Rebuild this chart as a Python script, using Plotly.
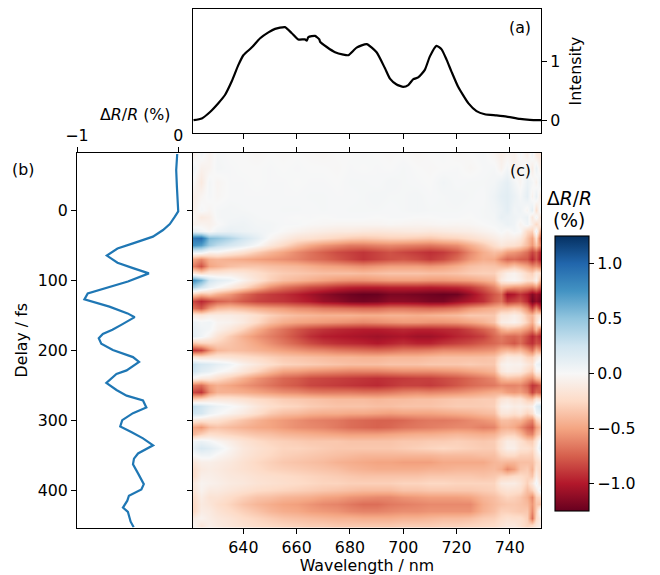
import numpy as np
import plotly.graph_objects as go

W, H = 660, 575

spec_nm = [621.3,624.4,627.5,630.6,633.1,635.6,638.1,640,643.1,646.3,649.4,651.9,655.6,658.1,660.6,663.1,663.8,664.4,666.9,668.5,668.8,671.3,674.4,677.5,679.4,682.5,686.3,690,693.1,695,697.5,700,701.9,703.8,705.6,708.1,710,712.5,714.4,716.3,718.1,720.6,724.4,727.5,730.6,735,738.8,743.8,747.5,751.8]
spec_int = [0,.03,.14,.29,.43,.66,.94,1.11,1.24,1.40,1.50,1.56,1.59,1.49,1.38,1.38,1.36,1.42,1.44,1.38,1.34,1.25,1.16,1.12,1.11,1.24,1.30,1.16,.89,.71,.61,.57,.60,.70,.73,.86,1.09,1.27,1.21,1.03,.83,.57,.29,.155,.10,.08,.06,.02,.005,0]

trace_delay = [-80,-57,-33,-14,2,9.5,20,28.6,38,47.6,55,65,75.2,83,90.5,102,112,119,127.6,138,147.6,153,164,171,177,183,191,200,210,217,229,234,246.7,257,265,272,282,290,300,309,317,326,336,347.6,355,363,376,391.4,399,408,415,424.8,431,438,445,453]
trace_val = [-.01,-.02,-.013,-.007,0,-.033,-.083,-.15,-.25,-.447,-.6,-.705,-.6,-.447,-.29,-.497,-.73,-.894,-.927,-.68,-.5,-.43,-.563,-.65,-.745,-.785,-.76,-.646,-.447,-.387,-.51,-.61,-.71,-.61,-.51,-.348,-.315,-.447,-.553,-.573,-.464,-.348,-.248,-.397,-.437,-.447,-.397,-.34,-.364,-.487,-.503,-.546,-.497,-.487,-.47,-.44]

map_nm = [621.5,624,627,630,635,640,645,650,655,660,665,670,675,680,685,690,695,700,705,710,715,720,725,730,734,736.5,739,741.5,744,746.5,748.5,750,751.3]
map_delay = [-80,-60,-40,-20,0,10,20,30,40,50,60,70,80,90,100,110,120,130,140,150,160,170,180,190,200,210,220,230,240,250,260,270,280,290,300,310,320,330,340,350,360,370,380,390,400,410,420,430,440,450]
# delta R / R in hundredths of a percent, one row per delay
map_centi = [
[-5,3,-4,2,0,0,-2,0,-1,0,-1,-2,0,0,1,0,-1,0,-2,0,1,-2,0,2,-3,-8,-4,-6,2,-8,6,-12,-15],
[4,-6,-4,3,1,0,0,1,0,1,0,0,-1,1,0,1,0,2,0,-1,0,1,-2,1,2,-5,3,-7,-3,5,-10,8,-8],
[-2,-12,3,-3,1,1,0,1,1,0,1,1,0,2,2,1,3,2,1,0,4,1,2,2,3,8,12,3,-3,8,3,-6,10],
[-8,-3,2,-2,1,1,1,1,1,1,2,2,1,1,2,3,2,2,3,1,2,3,2,1,6,12,14,8,2,12,-5,10,-12],
[-6,2,-3,2,3,2,1,1,2,2,1,2,1,2,2,2,1,2,3,2,2,2,1,2,4,8,13,4,6,-3,12,-20,6],
[-3,-12,-8,2,3,4,2,1,1,0,1,0,1,1,1,0,1,1,0,0,1,1,0,2,3,10,8,6,3,8,-14,5,-18],
[-6,-4,-6,-1,5,6,3,3,1,1,-1,-2,-3,-3,-3,-3,-2,-3,-4,-3,-2,-3,-2,0,2,4,8,5,-4,5,-8,-25,-10],
[10,4,-2,6,10,7,5,3,-1,-5,-8,-10,-12,-12,-14,-15,-14,-13,-12,-14,-12,-10,-9,-5,-2,2,-2,3,0,-25,-30,8,-45],
[90,95,55,50,38,25,12,-2,-10,-18,-20,-24,-28,-32,-34,-32,-30,-30,-32,-34,-30,-28,-22,-16,-10,-6,-8,-8,-14,-35,-50,-20,-70],
[75,70,45,32,22,12,0,-14,-25,-38,-48,-55,-60,-65,-65,-62,-60,-62,-64,-66,-62,-58,-46,-34,-22,-14,-18,-20,-26,-40,-55,-35,-60],
[10,8,-5,-3,-12,-20,-32,-42,-50,-60,-68,-75,-82,-86,-90,-85,-80,-84,-88,-92,-88,-78,-60,-46,-38,-42,-52,-55,-60,-70,-85,-75,-95],
[-50,-60,-45,-42,-45,-48,-52,-55,-58,-62,-68,-72,-78,-84,-90,-85,-80,-78,-82,-88,-82,-70,-55,-46,-48,-62,-72,-70,-75,-78,-95,-80,-100],
[-65,-80,-50,-45,-38,-35,-35,-38,-40,-42,-46,-50,-52,-55,-58,-55,-52,-52,-52,-55,-52,-46,-38,-35,-36,-40,-42,-35,-42,-50,-60,-55,-65],
[-15,-25,-15,-15,-12,-15,-22,-28,-32,-34,-36,-38,-38,-38,-40,-38,-36,-36,-36,-38,-38,-36,-32,-30,-30,-18,-8,-5,-12,-25,-30,-15,-20],
[75,60,25,15,8,-5,-18,-30,-38,-42,-46,-50,-54,-56,-56,-54,-52,-52,-52,-54,-54,-52,-50,-45,-40,-12,-5,-3,-8,-20,-20,-5,-40],
[40,25,8,0,-12,-25,-42,-58,-68,-75,-82,-86,-92,-96,-98,-98,-96,-96,-96,-98,-96,-94,-88,-76,-62,-45,-50,-55,-55,-60,-65,-55,-75],
[-30,-40,-35,-45,-55,-70,-82,-88,-92,-98,-105,-112,-118,-122,-125,-124,-118,-118,-120,-122,-124,-122,-108,-92,-78,-70,-105,-100,-90,-100,-115,-105,-115],
[-85,-95,-85,-75,-70,-78,-85,-88,-90,-95,-100,-108,-112,-118,-120,-118,-112,-112,-114,-118,-118,-108,-100,-92,-75,-68,-90,-85,-80,-95,-120,-110,-120],
[-70,-78,-55,-42,-38,-42,-48,-52,-55,-60,-62,-66,-68,-70,-72,-72,-68,-68,-70,-72,-70,-66,-56,-50,-46,-42,-42,-38,-42,-60,-85,-60,-85],
[-12,-15,-10,-10,-10,-14,-22,-30,-36,-40,-42,-44,-44,-44,-46,-46,-44,-44,-46,-44,-42,-40,-34,-34,-34,-15,-14,-8,-15,-35,-42,-25,-20],
[8,3,5,-3,-5,-12,-25,-38,-46,-50,-52,-54,-56,-58,-60,-58,-56,-54,-54,-56,-56,-54,-50,-44,-36,-10,-8,-5,-12,-30,-45,-20,5],
[10,6,3,-6,-15,-28,-45,-58,-68,-78,-85,-90,-94,-96,-98,-98,-96,-94,-96,-96,-94,-92,-84,-74,-64,-45,-38,-42,-45,-55,-65,-40,-65],
[12,5,-5,-18,-32,-45,-56,-64,-72,-82,-92,-98,-100,-102,-104,-106,-104,-102,-106,-106,-102,-96,-92,-86,-72,-65,-70,-72,-68,-82,-95,-85,-95],
[-35,-30,-28,-30,-36,-42,-50,-58,-66,-74,-82,-88,-92,-94,-96,-100,-96,-92,-96,-96,-90,-86,-82,-76,-72,-68,-72,-78,-70,-85,-92,-80,-85],
[-90,-85,-60,-42,-38,-40,-44,-48,-52,-56,-60,-62,-66,-68,-70,-72,-70,-66,-66,-64,-60,-60,-60,-58,-56,-46,-42,-46,-42,-55,-68,-45,-55],
[-15,-20,-18,-16,-18,-22,-26,-30,-34,-36,-38,-40,-42,-42,-44,-44,-42,-42,-42,-40,-38,-38,-38,-38,-36,-22,-12,-14,-14,-28,-30,-15,-5],
[28,22,18,12,5,-6,-14,-22,-28,-30,-32,-34,-36,-38,-38,-38,-36,-36,-36,-34,-34,-34,-32,-34,-34,-8,-4,-6,-5,-14,-20,5,10],
[25,15,10,2,-5,-16,-28,-40,-50,-52,-56,-58,-60,-62,-62,-62,-60,-58,-58,-58,-56,-54,-50,-46,-42,-14,-8,-10,-12,-25,-32,-5,-5],
[-5,-12,-14,-22,-32,-44,-56,-64,-72,-76,-82,-84,-86,-88,-90,-92,-90,-88,-86,-86,-82,-78,-72,-66,-60,-42,-36,-38,-40,-52,-58,-40,-35],
[-65,-70,-52,-45,-50,-56,-62,-68,-74,-78,-84,-86,-88,-90,-92,-94,-90,-86,-86,-88,-84,-78,-72,-68,-66,-60,-62,-62,-60,-72,-90,-85,-75],
[-85,-90,-58,-44,-44,-46,-50,-54,-58,-60,-64,-66,-66,-66,-68,-68,-66,-62,-60,-62,-60,-58,-54,-50,-46,-46,-52,-55,-52,-62,-85,-70,-75],
[-30,-25,-18,-15,-16,-20,-25,-28,-32,-34,-36,-38,-40,-40,-40,-42,-40,-40,-38,-38,-36,-34,-34,-32,-32,-18,-14,-20,-18,-32,-35,-15,-20],
[30,25,15,8,2,-5,-15,-22,-26,-28,-32,-34,-36,-36,-36,-38,-38,-36,-36,-36,-34,-32,-32,-32,-30,-8,-5,-10,-8,-12,-8,15,25],
[25,22,8,2,-5,-12,-22,-32,-38,-40,-44,-46,-46,-48,-48,-50,-52,-50,-50,-50,-48,-46,-44,-40,-38,-16,-15,-20,-15,-28,-20,5,10],
[-15,-18,-18,-20,-28,-36,-44,-50,-54,-58,-62,-64,-66,-70,-72,-74,-74,-72,-68,-66,-66,-64,-60,-56,-52,-38,-38,-42,-42,-55,-62,-30,-20],
[-50,-55,-40,-36,-40,-44,-48,-50,-54,-58,-60,-62,-66,-70,-72,-74,-72,-68,-66,-64,-62,-60,-60,-64,-62,-46,-44,-48,-58,-72,-78,-52,-40],
[-40,-30,-22,-24,-28,-32,-36,-38,-42,-44,-46,-48,-50,-52,-52,-52,-50,-48,-46,-46,-44,-42,-44,-46,-44,-34,-30,-30,-40,-58,-62,-38,-28],
[5,8,3,-3,-10,-18,-24,-28,-30,-32,-34,-34,-34,-36,-36,-36,-36,-34,-34,-32,-32,-30,-32,-34,-32,-20,-10,-12,-20,-30,-32,-15,5],
[12,20,15,8,-4,-14,-20,-24,-28,-28,-30,-32,-34,-34,-34,-34,-34,-32,-30,-28,-26,-28,-30,-32,-32,-18,-8,-8,-18,-20,-25,-8,15],
[0,5,5,-2,-8,-16,-22,-26,-30,-32,-34,-36,-38,-40,-42,-42,-42,-42,-42,-42,-40,-40,-40,-38,-38,-28,-24,-24,-30,-30,-32,-15,-5],
[-15,-8,-8,-10,-14,-20,-26,-30,-34,-36,-38,-40,-44,-46,-48,-50,-50,-52,-52,-52,-48,-48,-48,-48,-42,-40,-42,-42,-38,-38,-38,-25,-18],
[-22,-12,-10,-12,-16,-20,-24,-28,-30,-32,-34,-36,-38,-42,-44,-46,-46,-46,-46,-44,-44,-42,-42,-42,-40,-46,-60,-52,-36,-32,-44,-18,-25],
[-22,-8,-8,-10,-14,-16,-20,-22,-24,-26,-28,-30,-32,-34,-36,-36,-36,-36,-36,-34,-34,-34,-34,-36,-34,-28,-28,-24,-24,-28,-35,-8,-22],
[-12,-4,-6,-8,-12,-14,-18,-20,-22,-24,-26,-28,-28,-30,-30,-30,-30,-28,-28,-26,-26,-28,-28,-28,-28,-12,-10,-10,-16,-30,-15,5,-15],
[-15,-5,-12,-12,-16,-20,-24,-26,-28,-30,-32,-34,-36,-38,-40,-40,-40,-36,-36,-34,-34,-34,-34,-32,-30,-22,-18,-20,-22,-38,-30,-12,10],
[-22,-10,-18,-18,-24,-30,-36,-38,-42,-44,-46,-50,-52,-56,-58,-60,-60,-56,-54,-52,-52,-52,-50,-42,-38,-32,-28,-30,-34,-44,-60,-30,-25],
[-25,-12,-16,-22,-28,-36,-42,-46,-50,-52,-56,-60,-62,-66,-70,-70,-66,-64,-62,-60,-60,-60,-60,-46,-40,-36,-34,-34,-36,-40,-55,-35,-35],
[-25,-10,-12,-18,-24,-30,-36,-42,-46,-48,-52,-54,-56,-60,-62,-62,-60,-58,-58,-56,-56,-56,-56,-44,-38,-30,-30,-32,-34,-34,-60,-30,5],
[-10,-5,-10,-14,-18,-24,-28,-32,-36,-38,-40,-42,-44,-44,-46,-46,-46,-44,-44,-42,-40,-40,-38,-32,-30,-24,-20,-22,-22,-30,-70,-25,-10],
[-5,-15,-8,-12,-16,-20,-24,-26,-28,-30,-32,-32,-34,-34,-34,-34,-34,-32,-32,-32,-30,-30,-28,-26,-24,-18,-14,-14,-20,-28,-25,-15,-8],
]

wl_ticks = [640,660,680,700,720,740]
delay_ticks = [0,100,200,300,400]
cbar_ticks = [-1.0,-0.5,0.0,0.5,1.0]
rdbu = ["#67001f","#b2182b","#d6604d","#f4a582","#fddbc7","#f7f7f7","#d1e5f0","#92c5de","#4393c3","#2166ac","#053061"]
colorscale = [[i/10, c] for i, c in enumerate(rdbu)]

FONT = "DejaVu Sans"
TICK = 15.8
def fx(p): return p/W
def fy(p): return 1-p/H
XR = [621.1,751.7]
YR = [453.3,-81.4]
axis = dict(showline=True, linecolor="black", linewidth=1.1, mirror=True, ticks="outside",
            ticklen=5, tickwidth=1.1, tickcolor="black", showgrid=False, zeroline=False,
            tickfont=dict(family=FONT, size=TICK, color="black"))

fig = go.Figure()
fig.add_trace(go.Scatter(x=spec_nm, y=spec_int, mode="lines", line=dict(color="black", width=2.2, shape="spline", smoothing=0.5), xaxis="x", yaxis="y", showlegend=False))
fig.add_trace(go.Heatmap(x=map_nm, y=map_delay, z=(np.array(map_centi)/100).tolist(), zmin=-1.25, zmax=1.25, colorscale=colorscale, zsmooth="best", xaxis="x2", yaxis="y2",
    colorbar=dict(x=fx(555), xanchor="left", xpad=0, ypad=0, thickness=34, thicknessmode="pixels", len=275/H, lenmode="fraction", y=fy(373.5), yanchor="middle",
                  outlinewidth=1.1, outlinecolor="black", ticks="outside", ticklen=5, tickwidth=1.1, tickcolor="black", tickvals=cbar_ticks, tickformat=".1f",
                  tickfont=dict(family=FONT, size=TICK, color="black"))))
fig.add_trace(go.Scatter(x=trace_val, y=trace_delay, mode="lines", line=dict(color="#1f77b4", width=2.2), xaxis="x3", yaxis="y3", showlegend=False))

fig.update_layout(width=W, height=H, autosize=False, margin=dict(l=0,r=0,t=0,b=0,autoexpand=False), paper_bgcolor="white", plot_bgcolor="white",
    font=dict(family=FONT, size=TICK, color="black"),
    xaxis=dict(axis, domain=[fx(193),fx(541)], range=XR, anchor="y", tickvals=wl_ticks, showticklabels=False),
    yaxis=dict(axis, domain=[fy(133),fy(9)], range=[-0.22,1.90], anchor="x", side="right", tickvals=[0,1],
               title=dict(text="Intensity", standoff=10, font=dict(family=FONT, size=TICK, color="black"))),
    xaxis2=dict(axis, domain=[fx(193),fx(541)], range=XR, anchor="y2", tickvals=wl_ticks, mirror="ticks",
               title=dict(text="Wavelength / nm", standoff=8, font=dict(family=FONT, size=TICK, color="black"))),
    yaxis2=dict(axis, domain=[fy(527.5),fy(153)], range=YR, anchor="x2", tickvals=delay_ticks, showticklabels=False),
    xaxis3=dict(axis, domain=[fx(77),fx(193)], range=[-1.0,0.146], anchor="y3", side="top", tickvals=[-1,0]),
    yaxis3=dict(axis, domain=[fy(527.5),fy(153)], range=YR, anchor="x3", tickvals=delay_ticks, mirror=False,
               title=dict(text="Delay / fs", standoff=6, font=dict(family=FONT, size=TICK, color="black"))),
)
def note(text, x, y, size=TICK):
    fig.add_annotation(text=text, x=fx(x), y=fy(y), xref="paper", yref="paper", showarrow=False, font=dict(family=FONT, size=size, color="black"), xanchor="center", yanchor="middle")
note("(a)", 520, 28)
note("(b)", 23, 169)
note("(c)", 520, 170)
note("Δ<i>R</i>/<i>R</i> (%)", 135, 115)
note("Δ<i>R</i>/<i>R</i>", 569, 198, 18.7)
note("(%)", 569, 220, 18.7)

fig.write_html("out.html", config=dict(displayModeBar=False), post_script="document.body.style.margin='0';")
